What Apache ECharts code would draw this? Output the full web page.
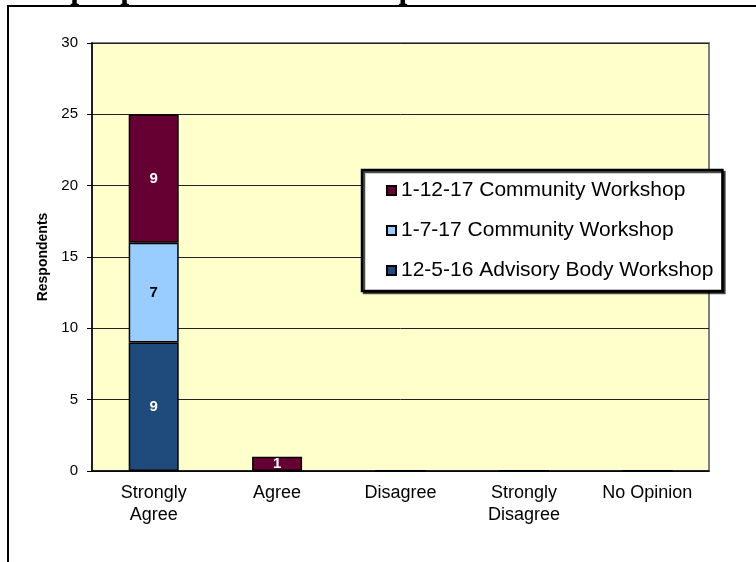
<!DOCTYPE html>
<html>
<head>
<meta charset="utf-8">
<script src="https://cdn.jsdelivr.net/npm/echarts@6/dist/echarts.min.js"></script>
<style>
  html, body { margin: 0; padding: 0; background: #fff; }
  #main { width: 756px; height: 562px; }
</style>
</head>
<body>
<div id="main"></div>
<script>
  // answers and tick values
  var categories = ['Strongly\nAgree', 'Agree', 'Disagree', 'Strongly\nDisagree', 'No Opinion'];
  var advisory1205 = [9, 0, 0, 0, 0];
  var community0107 = [7, 0, 0, 0, 0];
  var community0112 = [9, 1, 0, 0, 0];
  var seriesNames = ['12-5-16 Advisory Body Workshop', '1-7-17 Community Workshop', '1-12-17 Community Workshop'];

  var myChart = echarts.init(document.getElementById('main'));

  function barSeries(name, values, color, labelColor) {
    return {
      name: name,
      type: 'bar',
      stack: 'total',
      data: values,
      barWidth: 50,
      itemStyle: { color: color, borderColor: '#000', borderWidth: 1.5 },
      label: {
        show: true,
        position: 'inside',
        color: labelColor,
        fontFamily: 'Liberation Sans',
        fontWeight: 'bold',
        fontSize: 15,
        formatter: function (p) { return p.value ? String(p.value) : ''; }
      }
    };
  }

  myChart.setOption({
    animation: false,
    // title sits mostly above the page edge, only its bottom shows
    title: {
      text: 'The purpose of this workshop was clear to me.',
      left: 9,
      top: -26,
      padding: 0,
      textStyle: { fontFamily: 'Liberation Serif', fontWeight: 'bold', fontSize: 32, color: '#000' }
    },
    graphic: [{
      type: 'rect',
      shape: { x: 8, y: 6, width: 800, height: 600 },
      style: { fill: null, stroke: '#000', lineWidth: 2 },
      z: 1
    }],
    grid: {
      left: 92, right: 47, top: 43, bottom: 91,
      show: true,
      backgroundColor: '#FFFFCC',
      borderColor: '#808080',
      borderWidth: 2
    },
    legend: {
      data: [seriesNames[2], seriesNames[1], seriesNames[0]],
      orient: 'vertical',
      left: 362,
      top: 170,
      padding: [10, 9, 10, 24],
      itemGap: 19,
      itemWidth: 9,
      itemHeight: 9,
      icon: 'rect',
      backgroundColor: '#fff',
      borderColor: '#000',
      borderWidth: 2.5,
      shadowColor: 'rgba(0,0,0,0.7)',
      shadowOffsetX: 2,
      shadowOffsetY: 2,
      shadowBlur: 0,
      textStyle: { fontFamily: 'Liberation Sans', fontSize: 21, color: '#000' }
    },
    xAxis: {
      type: 'category',
      data: categories,
      axisLine: { lineStyle: { color: '#000', width: 1.5 } },
      axisTick: { length: 6, lineStyle: { color: '#000' } },
      axisLabel: { fontFamily: 'Liberation Sans', fontSize: 18, lineHeight: 22, color: '#000', margin: 11, interval: 0 }
    },
    yAxis: {
      type: 'value',
      min: 0,
      max: 30,
      interval: 5,
      name: 'Respondents',
      nameLocation: 'middle',
      nameRotate: 90,
      nameGap: 42,
      nameTextStyle: { fontFamily: 'Liberation Sans', fontWeight: 'bold', fontSize: 14, color: '#000' },
      axisLine: { show: true, lineStyle: { color: '#000', width: 1.5 } },
      axisTick: { show: true, length: 5, lineStyle: { color: '#000' } },
      axisLabel: { fontFamily: 'Liberation Sans', fontSize: 15, color: '#000', margin: 14 },
      splitLine: { lineStyle: { color: '#222', width: 1 } }
    },
    series: [
      barSeries(seriesNames[0], advisory1205, '#1F4A7C', '#fff'),
      barSeries(seriesNames[1], community0107, '#99CCFF', '#000'),
      barSeries(seriesNames[2], community0112, '#660033', '#fff')
    ]
  });
</script>
</body>
</html>
